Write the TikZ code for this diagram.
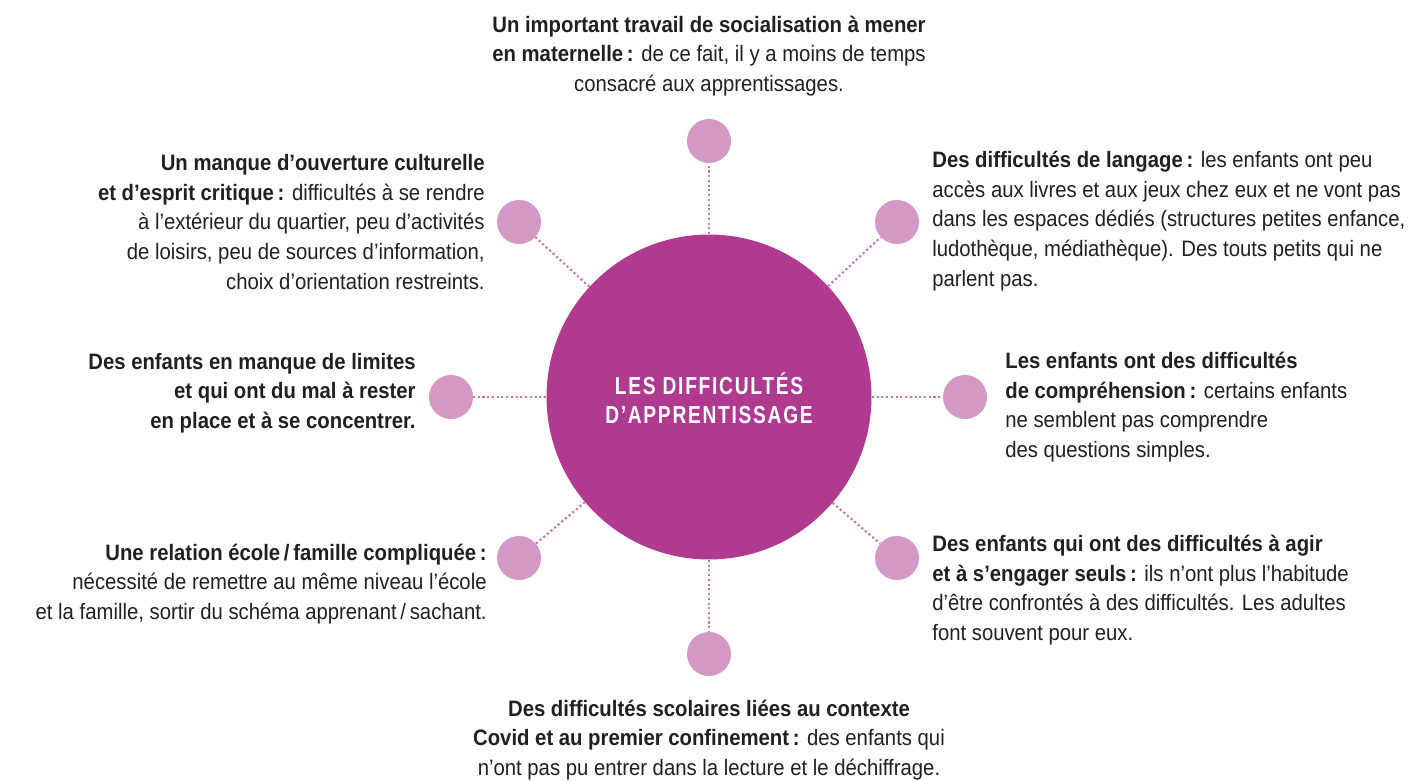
\documentclass[tikz,border=0pt]{standalone}
\usepackage{fontspec}
\setmainfont{Liberation Sans}[FakeStretch=0.91]
\newfontfamily\titrefont{Liberation Sans}[FakeStretch=0.78,LetterSpace=7]
\definecolor{violet}{HTML}{B03A8F}
\definecolor{rose}{HTML}{D398C4}
\definecolor{roselien}{HTML}{CC72B0}
\definecolor{encre}{HTML}{231F20}
\newcommand{\gras}[1]{\textbf{#1}}

\begin{document}
\begin{tikzpicture}[x=0.02cm,y=-0.02cm,
    grand/.style={circle,fill=violet,minimum size=6.5cm,inner sep=0pt},
    petit/.style={circle,fill=rose,minimum size=0.88cm,inner sep=0pt},
    lien/.style={roselien,line width=1.2pt,dash pattern=on 1.2pt off 1.5pt},
    texte/.style={text=encre,inner sep=0pt,font=\fontsize{12.7}{16.9}\selectfont}]
        \useasboundingbox (0,0) rectangle (1414,781);
        \node[grand] (centre) at (709,397) {};
        \node[text=white,align=center,font=\titrefont\fontsize{14}{16.2}\selectfont\bfseries] (titre) at (709,398) {LES DIFFICULTÉS\\D’APPRENTISSAGE};
        \node[petit] (haut) at (709,141) {};
        \node[petit] (hautdroite) at (897,222) {};
        \node[petit] (droite) at (965,397) {};
        \node[petit] (basdroite) at (897,558) {};
        \node[petit] (bas) at (709,654) {};
        \node[petit] (basgauche) at (519,558) {};
        \node[petit] (gauche) at (451,397) {};
        \node[petit] (hautgauche) at (519,222) {};
        \draw[lien] (centre) -- (haut);
        \draw[lien] (centre) -- (hautdroite);
        \draw[lien] (centre) -- (droite);
        \draw[lien] (centre) -- (basdroite);
        \draw[lien] (centre) -- (bas);
        \draw[lien] (centre) -- (basgauche);
        \draw[lien] (centre) -- (gauche);
        \draw[lien] (centre) -- (hautgauche);
        \node[texte,align=center] (t-haut) at (709,56) {\gras{Un important travail de socialisation à mener}\\\gras{en maternelle\,:} de ce fait, il y a moins de temps\\consacré aux apprentissages.};
        \node[texte,align=left,anchor=west] (t-hautdroite) at (932,221) {\gras{Des difficultés de langage\,:} les enfants ont peu\\accès aux livres et aux jeux chez eux et ne vont pas\\dans les espaces dédiés (structures petites enfance,\\ludothèque, médiathèque). Des touts petits qui ne\\parlent pas.};
        \node[texte,align=left,anchor=west] (t-droite) at (1005,407) {\gras{Les enfants ont des difficultés}\\\gras{de compréhension\,:} certains enfants\\ne semblent pas comprendre\\des questions simples.};
        \node[texte,align=left,anchor=west] (t-basdroite) at (932,590) {\gras{Des enfants qui ont des difficultés à agir}\\\gras{et à s’engager seuls\,:} ils n’ont plus l’habitude\\d’être confrontés à des difficultés. Les adultes\\font souvent pour eux.};
        \node[texte,align=center] (t-bas) at (709,740) {\gras{Des difficultés scolaires liées au contexte}\\\gras{Covid et au premier confinement\,:} des enfants qui\\n’ont pas pu entrer dans la lecture et le déchiffrage.};
        \node[texte,align=right,anchor=east] (t-basgauche) at (487,584) {\gras{Une relation école\,/\,famille compliquée\,:}\\nécessité de remettre au même niveau l’école\\et la famille, sortir du schéma apprenant\,/\,sachant.};
        \node[texte,align=right,anchor=east] (t-gauche) at (416,393) {\gras{Des enfants en manque de limites}\\\gras{et qui ont du mal à rester}\\\gras{en place et à se concentrer.}};
        \node[texte,align=right,anchor=east] (t-hautgauche) at (485,222) {\gras{Un manque d’ouverture culturelle}\\\gras{et d’esprit critique\,:} difficultés à se rendre\\à l’extérieur du quartier, peu d’activités\\de loisirs, peu de sources d’information,\\choix d’orientation restreints.};
    \end{tikzpicture}
\end{document}
